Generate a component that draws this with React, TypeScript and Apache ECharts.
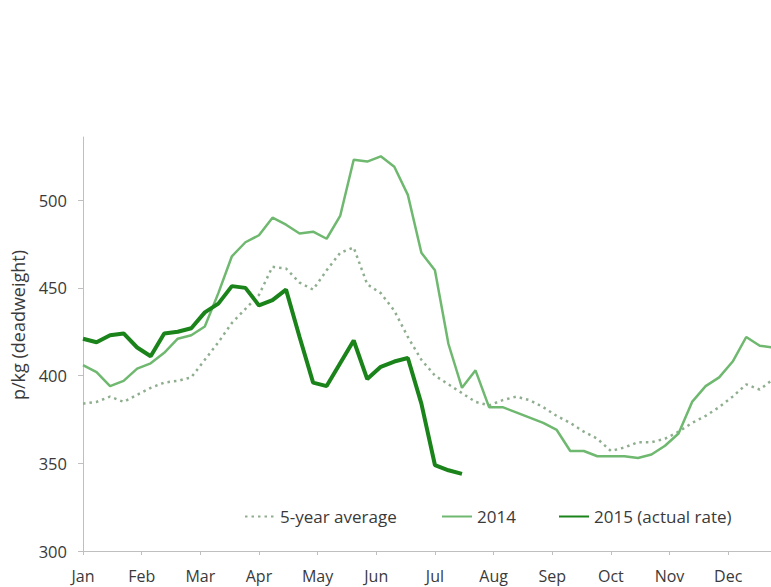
import React, { useEffect, useRef } from "react";
import * as echarts from "echarts";

const monthLabels = ["Jan", "Feb", "Mar", "Apr", "May", "Jun", "Jul", "Aug", "Sep", "Oct", "Nov", "Dec"];
const yTicks = [300, 350, 400, 450, 500];
const seriesNames = ["5-year average", "2014", "2015 (actual rate)"];

// weekly values (p/kg deadweight), week 1 = start of January
const avg5Year = [
  384, 385, 388, 385, 389, 393, 396, 397, 399, 409, 419, 430, 438, 446, 462, 461, 453, 449, 460, 470,
  473, 452, 447, 437, 422, 409, 400, 395, 390, 385, 383, 386, 388, 386, 382, 377, 373, 368, 364, 357,
  359, 362, 362, 364, 368, 373, 377, 382, 388, 395, 392, 398,
];
const y2014 = [
  406, 402, 394, 397, 404, 407, 413, 421, 423, 428, 447, 468, 476, 480, 490, 486, 481, 482, 478, 491,
  523, 522, 525, 519, 503, 470, 460, 418, 393, 403, 382, 382, 379, 376, 373, 369, 357, 357, 354, 354,
  354, 353, 355, 360, 367, 385, 394, 399, 408, 422, 417, 416,
];
const y2015 = [
  421, 419, 423, 424, 416, 411, 424, 425, 427, 436, 441, 451, 450, 440, 443, 449, 422, 396, 394, 407,
  420, 398, 405, 408, 410, 384, 349, 346, 344,
];

const weeksPerYear = 52;
const toPoints = (arr: number[]) => arr.map((v, i) => [(i * 12) / weeksPerYear, v]);

const FONT = "'Open Sans', sans-serif";
const TEXT = "#3a3a3a";
const legendLefts = [239, 436, 553];

export default function App() {
  const ref = useRef<HTMLDivElement>(null);
  useEffect(() => {
    if (!ref.current) return;
    const chart = echarts.init(ref.current, undefined, { renderer: "svg" });
    chart.setOption({
      animation: false,
      backgroundColor: "#ffffff",
      textStyle: { fontFamily: FONT },
      grid: { left: 83, right: 0, top: 137, bottom: 36, containLabel: false },
      legend: seriesNames.map((name, i) => ({
        left: legendLefts[i],
        top: 503,
        itemWidth: 30,
        itemHeight: 14,
        itemStyle: { opacity: 0 },
        textStyle: { fontFamily: FONT, fontSize: 17, color: TEXT },
        data: [name],
      })),
      graphic: [
        {
          type: "text",
          x: 18,
          y: 325,
          rotation: Math.PI / 2,
          style: {
            text: "p/kg (deadweight)",
            fontFamily: FONT,
            fontSize: 18,
            fill: TEXT,
            align: "center",
            verticalAlign: "middle",
          },
        },
      ],
      xAxis: {
        type: "value",
        min: 0,
        max: 11.73,
        interval: 1,
        splitLine: { show: false },
        axisLine: { lineStyle: { color: "#bfbfbf", width: 1 } },
        axisTick: { show: true, length: 4, customValues: monthLabels.map((_, i) => i), lineStyle: { color: "#bfbfbf" } },
        axisLabel: {
          customValues: monthLabels.map((_, i) => i),
          formatter: (v: number) => monthLabels[Math.round(v)] ?? "",
          fontFamily: FONT,
          fontSize: 16,
          color: TEXT,
          margin: 17,
        },
      },
      yAxis: {
        type: "value",
        min: 300,
        max: 536,
        interval: 50,
        splitLine: { show: false },
        axisLine: { show: true, lineStyle: { color: "#bfbfbf", width: 1 } },
        axisTick: { show: true, length: 5, customValues: yTicks, lineStyle: { color: "#bfbfbf" } },
        axisLabel: {
          customValues: yTicks,
          fontFamily: FONT,
          fontSize: 16.5,
          color: TEXT,
          margin: 16,
        },
      },
      series: [
        {
          name: seriesNames[0],
          type: "line",
          symbol: "none",
          data: toPoints(avg5Year),
          lineStyle: { color: "#8fae8f", width: 2.5, type: [2.5, 4] },
          itemStyle: { color: "#8fae8f" },
          z: 2,
        },
        {
          name: seriesNames[1],
          type: "line",
          symbol: "none",
          data: toPoints(y2014),
          lineStyle: { color: "#6fb86f", width: 2.5 },
          itemStyle: { color: "#6fb86f" },
          z: 3,
        },
        {
          name: seriesNames[2],
          type: "line",
          symbol: "none",
          data: toPoints(y2015),
          lineStyle: { color: "#1a831a", width: 4 },
          itemStyle: { color: "#1a831a" },
          z: 4,
        },
      ],
    });
    return () => chart.dispose();
  }, []);
  return <div ref={ref} style={{ position: "fixed", left: 0, top: 0, width: 771, height: 587 }} />;
}
